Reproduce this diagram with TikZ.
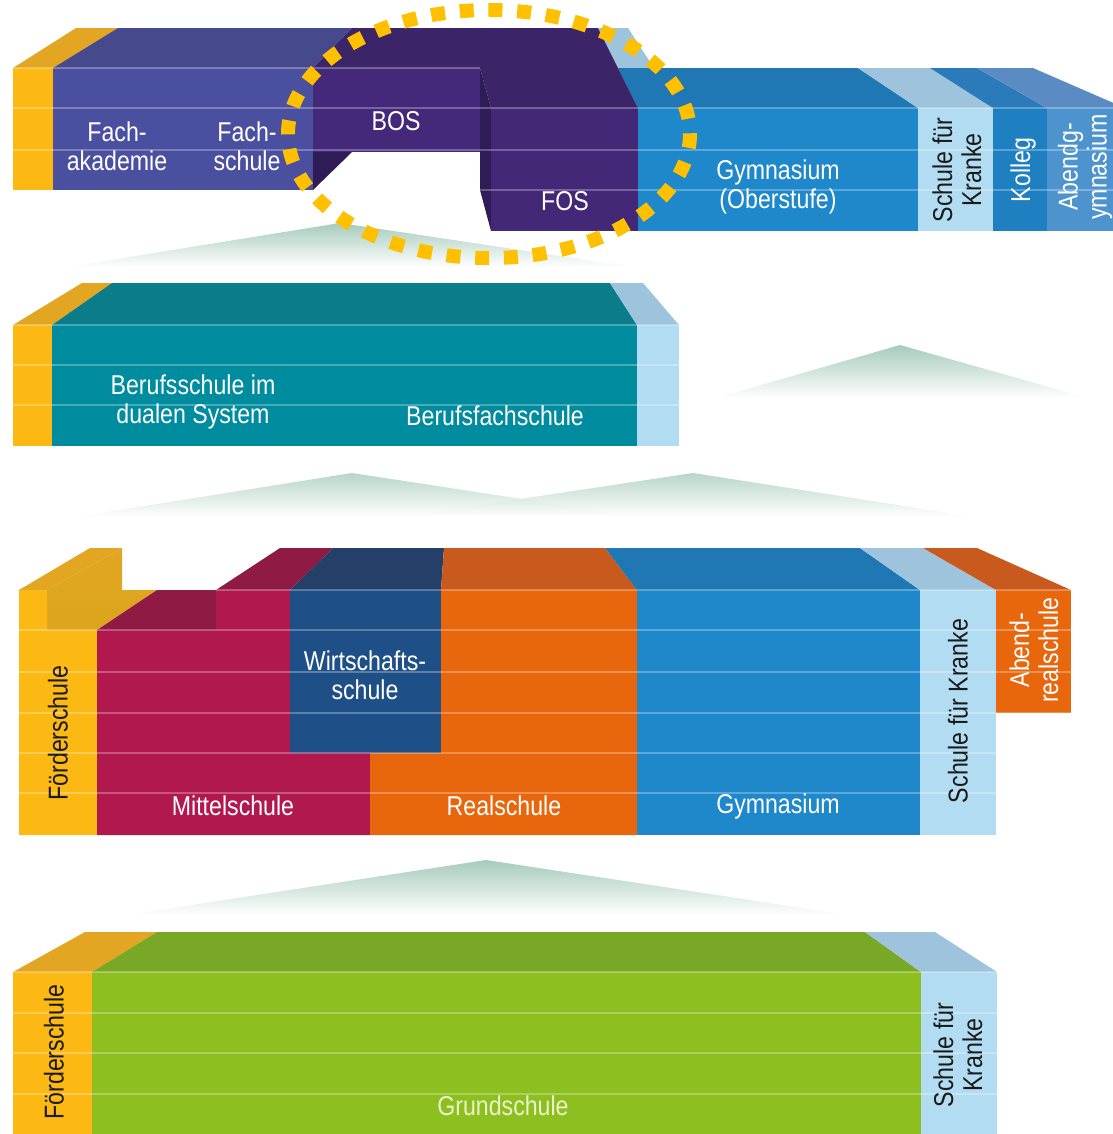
\documentclass[tikz,border=0pt]{standalone}
\usepackage{fontspec}
\setmainfont{Liberation Sans}[FakeStretch=0.85]
\definecolor{GoldF}{HTML}{FDB913}
\definecolor{GoldT}{HTML}{E2A622}
\definecolor{GoldS}{HTML}{E5AC1E}
\definecolor{FachF}{HTML}{4B4F9F}
\definecolor{FachT}{HTML}{464A8D}
\definecolor{BosF}{HTML}{44297B}
\definecolor{BosT}{HTML}{3C2468}
\definecolor{BosS}{HTML}{2F1B55}
\definecolor{FosF}{HTML}{432877}
\definecolor{PaleF}{HTML}{B2DCF2}
\definecolor{PaleT}{HTML}{9DC4DC}
\definecolor{GymF}{HTML}{1E88CB}
\definecolor{GymT}{HTML}{1F78B4}
\definecolor{KolF}{HTML}{1F80C1}
\definecolor{KolT}{HTML}{2B7BBA}
\definecolor{AbgF}{HTML}{4D94CF}
\definecolor{AbgT}{HTML}{5A8CC3}
\definecolor{TealF}{HTML}{008C9F}
\definecolor{TealT}{HTML}{0B7D8A}
\definecolor{MitF}{HTML}{B0184E}
\definecolor{MitT}{HTML}{8F1A44}
\definecolor{WirF}{HTML}{1F4F87}
\definecolor{WirT}{HTML}{243F68}
\definecolor{RealF}{HTML}{E8660C}
\definecolor{RealT}{HTML}{C95A1E}
\definecolor{GreenF}{HTML}{8EBF21}
\definecolor{GreenT}{HTML}{79A826}
\definecolor{HillGreen}{HTML}{A6CBBB}
\definecolor{RingGold}{HTML}{FFC000}
\definecolor{InkDark}{HTML}{1A1A1A}
\definecolor{GrundText}{HTML}{EAF4C8}
\newcommand{\lblfont}{\fontsize{15.5}{16.5}\selectfont}

\begin{document}
\begin{tikzpicture}[x=0.02cm, y=-0.02cm,
    lbl/.style={text=white, font=\lblfont, align=center, inner sep=0pt},
    dlbl/.style={text=InkDark, font=\lblfont, align=center, inner sep=0pt, rotate=90},
    grade/.style={white, opacity=0.28, line width=0.8pt},
    hill/.style={top color=HillGreen, bottom color=white, draw=none},
    dotring/.style={draw=RingGold, line width=0.28cm, dash pattern=on 0.28cm off 0.295cm}]
    \useasboundingbox (0,0) rectangle (1113,1134);
    \clip (0,0) rectangle (1113,1134);

    % hills
    \shade[hill] (67,267) -- (340,223) -- (634,267) -- cycle;
    \shade[hill] (716,398) -- (900,345) -- (1088,398) -- cycle;
    \shade[hill, opacity=0.8] (75,517) -- (352,473) -- (640,517) -- cycle;
    \shade[hill, opacity=0.8] (400,517) -- (693,473) -- (975,517) -- cycle;
    \shade[hill] (126,915) -- (486,860) -- (849,915) -- cycle;

    % top level
    \fill[GoldT] (13,68) -- (53,68) -- (118,28) -- (76,28) -- cycle;
    \fill[GoldF] (13,68) rectangle (53,190);
    \fill[FachT] (53,68) -- (313,68) -- (352,28) -- (118,28) -- cycle;
    \fill[FachF] (53,68) rectangle (313,190);
    \fill[PaleT] (598,28) -- (628,28) -- (654,68) -- (618,68) -- cycle;
    \fill[GymT] (618,68) -- (858,68) -- (918,108) -- (638,108) -- cycle;
    \fill[PaleT] (858,68) -- (930,68) -- (993,108) -- (918,108) -- cycle;
    \fill[KolT] (930,68) -- (977,68) -- (1047,108) -- (993,108) -- cycle;
    \fill[AbgT] (977,68) -- (1033,68) -- (1125,108) -- (1047,108) -- cycle;
    \fill[GymF] (638,108) rectangle (918,231);
    \fill[PaleF] (918,108) rectangle (993,231);
    \fill[KolF] (993,108) rectangle (1047,231);
    \fill[AbgF] (1047,108) rectangle (1125,231);
    \fill[BosT] (313,68) -- (352,28) -- (598,28) -- (638,108) -- (491,108) -- (480,68) -- cycle;
    \fill[BosF] (313,68) rectangle (480,152);
    \fill[BosS] (313,152) -- (352,152) -- (313,190) -- cycle;
    \fill[BosS] (480,68) -- (491,108) -- (491,231) -- (480,190) -- cycle;
    \fill[FosF] (491,108) rectangle (638,231);
    \draw[grade] (13,68) -- (480,68);
    \draw[grade] (13,108) -- (1113,108);
    \draw[grade] (13,150) -- (1113,150);
    \draw[grade] (480,190) -- (1113,190);

    % vocational level
    \fill[GoldT] (13,325) -- (52,325) -- (112,283) -- (82,283) -- cycle;
    \fill[GoldF] (13,325) rectangle (52,446);
    \fill[TealT] (52,325) -- (637,325) -- (610,283) -- (112,283) -- cycle;
    \fill[TealF] (52,325) rectangle (637,446);
    \fill[PaleT] (637,325) -- (679,325) -- (643,283) -- (610,283) -- cycle;
    \fill[PaleF] (637,325) rectangle (679,446);
    \foreach \yy in {325,365,405}
        \draw[grade] (13,\yy) -- (679,\yy);

    % secondary level
    \fill[GoldT] (19,590) -- (47,590) -- (122,548) -- (90,548) -- cycle;
    \shade[top color=GoldT, bottom color=GoldS!80!black!20!GoldS] (47,590) -- (122,548) -- (122,590) -- (157,590) -- (97,630) -- (47,630) -- cycle;
    \fill[GoldF] (19,590) -- (47,590) -- (47,630) -- (97,630) -- (97,835) -- (19,835) -- cycle;
    \fill[MitT] (97,630) -- (157,590) -- (216,590) -- (216,630) -- cycle;
    \fill[MitT] (216,590) -- (280,548) -- (333,548) -- (290,590) -- cycle;
    \fill[WirT] (290,590) -- (333,548) -- (444,548) -- (441,590) -- cycle;
    \fill[RealT] (441,590) -- (444,548) -- (605,548) -- (637,590) -- cycle;
    \fill[GymT] (637,590) -- (605,548) -- (860,548) -- (920,590) -- cycle;
    \fill[PaleT] (920,590) -- (860,548) -- (923,548) -- (996,590) -- cycle;
    \fill[RealT] (996,590) -- (923,548) -- (977,548) -- (1071,590) -- cycle;
    \fill[MitF] (97,630) -- (216,630) -- (216,590) -- (290,590) -- (290,753) -- (370,753) -- (370,835) -- (97,835) -- cycle;
    \fill[WirF] (290,590) rectangle (441,753);
    \fill[RealF] (441,590) -- (637,590) -- (637,835) -- (370,835) -- (370,753) -- (441,753) -- cycle;
    \fill[GymF] (637,590) rectangle (920,835);
    \fill[PaleF] (920,590) rectangle (996,835);
    \fill[RealF] (996,590) rectangle (1071,713);
    \draw[grade] (216,590) -- (1071,590);
    \foreach \yy in {630,672,713}
        \draw[grade] (19,\yy) -- (1071,\yy);
    \foreach \yy in {753,793}
        \draw[grade] (19,\yy) -- (996,\yy);

    % primary level
    \fill[GoldT] (13,972) -- (92,972) -- (157,932) -- (85,932) -- cycle;
    \fill[GoldF] (13,972) rectangle (92,1140);
    \fill[GreenT] (92,972) -- (921,972) -- (865,932) -- (157,932) -- cycle;
    \fill[GreenF] (92,972) rectangle (921,1140);
    \fill[PaleT] (921,972) -- (997,972) -- (935,932) -- (865,932) -- cycle;
    \fill[PaleF] (921,972) rectangle (997,1140);
    \foreach \yy in {972,1013,1053,1094}
        \draw[grade] (13,\yy) -- (997,\yy);

    % labels
    \node[lbl] (fachak) at (117,146) {Fach-\\akademie};
    \node[lbl] (fachsch) at (247,146) {Fach-\\schule};
    \node[lbl] (bos) at (396,121) {BOS};
    \node[lbl] (fos) at (565,201) {FOS};
    \node[lbl] (gymob) at (778,187) {Gymnasium\\(Oberstufe)};
    \node[dlbl] (krankeA) at (957,170) {Schule für\\Kranke};
    \node[lbl, rotate=90] (kolleg) at (1023,170) {Kolleg};
    \node[lbl, rotate=90] (abendgym) at (1085,167) {Abendg-\\ymnasium};

    \node[lbl] (berufs) at (193,402) {Berufsschule im\\dualen System};
    \node[lbl] (bfs) at (495,416) {Berufsfachschule};

    \node[dlbl] (foerdA) at (58,733) {Förderschule};
    \node[lbl] (wirt) at (365,675) {Wirtschafts-\\schule};
    \node[lbl] (mittel) at (233,806) {Mittelschule};
    \node[lbl] (real) at (504,806) {Realschule};
    \node[lbl] (gymB) at (778,806) {Gymnasium};
    \node[dlbl] (krankeB) at (958,711) {Schule für Kranke};
    \node[lbl, rotate=90] (abendreal) at (1034,650) {Abend-\\realschule};

    \node[dlbl] (foerdB) at (54,1052) {Förderschule};
    \node[lbl, text=GrundText] (grund) at (503,1106) {Grundschule};
    \node[dlbl] (krankeC) at (958,1055) {Schule für\\Kranke};

    % highlight
    \draw[dotring] (489,134) ellipse [x radius=201, y radius=124];
\end{tikzpicture}
\end{document}
